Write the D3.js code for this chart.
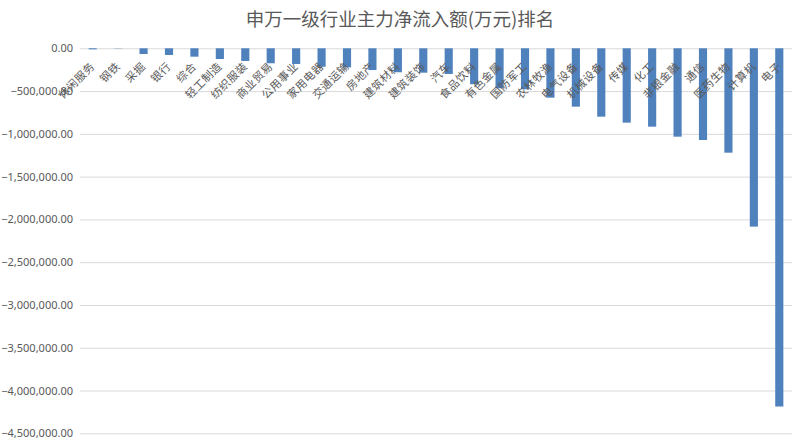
<!DOCTYPE html>
<html>
<head>
<meta charset="utf-8">
<script src="https://cdn.jsdelivr.net/npm/d3@7"></script>
<style>
  body { margin: 0; background: #fff; }
  text { font-family: "Noto Sans CJK SC", "Noto Sans", sans-serif; }
</style>
</head>
<body>
<script>
var industries = ["休闲服务","钢铁","采掘","银行","综合","轻工制造","纺织服装","商业贸易","公用事业","家用电器",
  "交通运输","房地产","建筑材料","建筑装饰","汽车","食品饮料","有色金属","国防军工","农林牧渔","电气设备",
  "机械设备","传媒","化工","非银金融","通信","医药生物","计算机","电子"];
var netInflow = [-12000,-3000,-67000,-78000,-98000,-125000,-148000,-175000,-183000,-215000,
  -222000,-254000,-280000,-285000,-300000,-420000,-467000,-479000,-577000,-682000,
  -799000,-869000,-916000,-1033000,-1072000,-1220000,-2084000,-4187000];
var yTicks = [0,-500000,-1000000,-1500000,-2000000,-2500000,-3000000,-3500000,-4000000,-4500000];
var chartTitle = "申万一级行业主力净流入额(万元)排名";

var w = 801, h = 445;
var plotLeft = 80, plotRight = 792, plotTop = 48.3, plotBottom = 433.3;

var svg = d3.select("body").append("svg")
    .attr("width", w)
    .attr("height", h);

var x = d3.scaleBand().domain(industries).range([plotLeft, plotRight]).paddingInner(0.68).paddingOuter(0.34);
var y = d3.scaleLinear().domain([0, -4500000]).range([plotTop, plotBottom]);

svg.append("text")
    .attr("x", 400).attr("y", 26)
    .attr("text-anchor", "middle")
    .style("font-size", "18.5px")
    .style("fill", "#595959")
    .text(chartTitle);

// gridlines + y labels
var fmt = d3.format(",.2f");
var yAxis = d3.axisLeft(y).tickValues(yTicks).tickSize(-(plotRight - plotLeft)).tickPadding(7)
    .tickFormat(function(d){ return d === 0 ? "0.00" : fmt(d); });
var gy = svg.append("g").attr("transform", "translate(" + plotLeft + ",0)").call(yAxis);
gy.select(".domain").remove();
gy.selectAll(".tick line").attr("stroke", "#d9d9d9");
gy.selectAll(".tick text").style("font-size", "11px").style("fill", "#595959")
    .style("font-family", "'Noto Sans', sans-serif");

// bars
svg.append("g").selectAll("rect")
    .data(industries)
    .join("rect")
    .attr("x", function(d){ return x(d); })
    .attr("y", y(0))
    .attr("width", x.bandwidth())
    .attr("height", function(d, i){ return y(netInflow[i]) - y(0); })
    .attr("fill", "#4f81bd");

// category labels, rotated, sitting under the zero line
svg.append("g").selectAll("text")
    .data(industries)
    .join("text")
    .attr("transform", function(d){
        return "translate(" + (x(d) + x.bandwidth() / 2) + "," + (y(0) + 16) + ") rotate(-45)";
    })
    .attr("text-anchor", "end")
    .attr("dy", "0.35em")
    .style("font-size", "11px")
    .style("letter-spacing", "0.5px")
    .style("fill", "#595959")
    .text(function(d){ return d; });
</script>
</body>
</html>
